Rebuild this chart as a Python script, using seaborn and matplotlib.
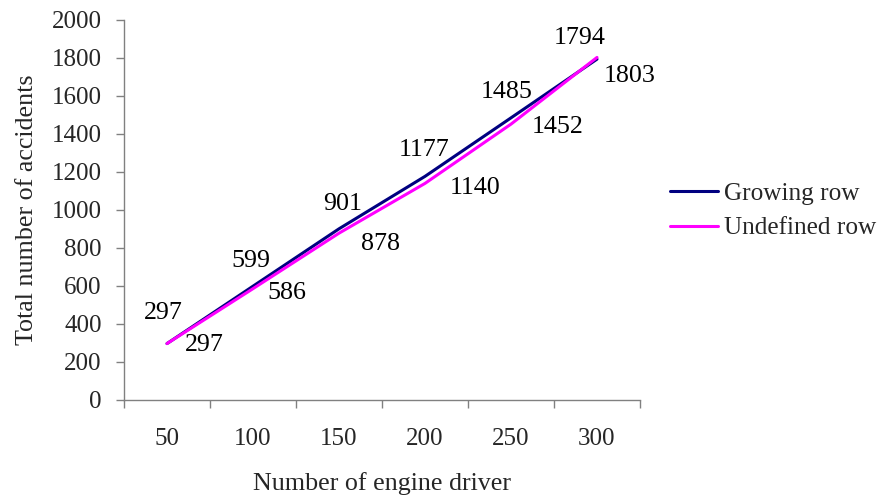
import matplotlib
matplotlib.use("Agg")
import matplotlib.pyplot as plt
import seaborn as sns
import pandas as pd

drivers = ["50", "100", "150", "200", "250", "300"]
growing_row = [297, 599, 901, 1177, 1485, 1794]
undefined_row = [297, 586, 878, 1140, 1452, 1803]
series_names = ["Growing row", "Undefined row"]
y_ticks = [0, 200, 400, 600, 800, 1000, 1200, 1400, 1600, 1800, 2000]

colors = {"Growing row": "#000080", "Undefined row": "#FF00FF"}
# label offsets in pixels (dx, dy) relative to each point
growing_offsets = [(-4, 31), (-2, 25), (4, 25), (-1, 26), (-4, 26), (-17, 21)]
undefined_offsets = [(37, -1), (34, -4), (42, -11), (50, -5), (47, -3), (33, -19)]

pos = list(range(len(drivers)))
df = pd.DataFrame({
    "pos": pos * 2,
    "value": growing_row + undefined_row,
    "series": [series_names[0]] * len(pos) + [series_names[1]] * len(pos),
})

sns.set_theme(style="white")
plt.rcParams["font.family"] = ["Liberation Serif", "DejaVu Serif"]
FS_TICK = 18
FS = 18.7
FS_LEG = 18.2

fig = plt.figure(figsize=(8.87, 5.01), dpi=100)
ax = fig.add_axes([124 / 887, 1 - 400 / 501, (640 - 124) / 887, (400 - 20) / 501])

sns.lineplot(data=df, x="pos", y="value", hue="series", palette=colors,
             linewidth=2.2, ax=ax, legend=True)

for x, v, (dx, dy) in zip(pos, growing_row, growing_offsets):
    ax.annotate(str(v), (x, v), xytext=(dx, dy), textcoords="offset pixels",
                ha="center", va="center", fontsize=FS, color="black")
for x, v, (dx, dy) in zip(pos, undefined_row, undefined_offsets):
    ax.annotate(str(v), (x, v), xytext=(dx, dy), textcoords="offset pixels",
                ha="center", va="center", fontsize=FS, color="black")

ax.set_xlim(-0.5, len(drivers) - 0.5)
ax.set_ylim(0, 2000)
ax.set_yticks(y_ticks)
ax.set_yticklabels([str(t) for t in y_ticks], fontsize=FS_TICK)
ax.set_xticks([i - 0.5 for i in range(len(drivers) + 1)])
ax.set_xticklabels([])
ax.set_xticks(pos, minor=True)
ax.set_xticklabels(drivers, minor=True, fontsize=FS_TICK)
ax.tick_params(axis="x", which="major", direction="out", length=6, width=1, color="#808080")
ax.tick_params(axis="x", which="minor", length=0, pad=20)
ax.tick_params(axis="y", direction="out", length=6, width=1, color="#808080", pad=10)
ax.tick_params(left=True, bottom=True)

for side in ["top", "right"]:
    ax.spines[side].set_visible(False)
for side in ["left", "bottom"]:
    ax.spines[side].set_color("#808080")
    ax.spines[side].set_linewidth(1)

ax.set_xlabel("Number of engine driver", fontsize=FS, labelpad=16)
ax.set_ylabel("Total number of accidents", fontsize=FS, labelpad=10)

ax.legend(title=None, loc="center left", bbox_to_anchor=(670 / 887, 1 - 211 / 501),
          bbox_transform=fig.transFigure, frameon=False, fontsize=FS_LEG,
          handlelength=1.9, handletextpad=0.25, labelspacing=0.45,
          borderaxespad=0, borderpad=0)

fig.savefig("out.png", dpi=100)
